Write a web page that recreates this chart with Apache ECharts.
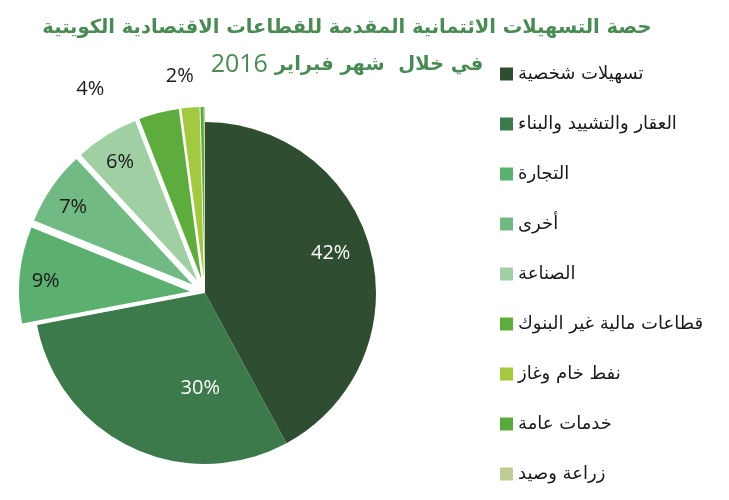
<!DOCTYPE html>
<html lang="ar">
<head>
  <meta charset="utf-8">
  <style>
    html, body { margin: 0; padding: 0; width: 100%; height: 100%; background: #fff; overflow: hidden; }
  </style>
  <script src="https://cdn.jsdelivr.net/npm/echarts@6/dist/echarts.min.js"></script>
</head>
<body>
  <div id="container" style="width: 729px; height: 500px;"></div>
  <script>
    // sectors, in legend order
    var sectors = ['تسهيلات شخصية', 'العقار والتشييد والبناء', 'التجارة', 'أخرى', 'الصناعة',
      'قطاعات مالية غير البنوك', 'نفط خام وغاز', 'خدمات عامة', 'زراعة وصيد'];
    // share of credit, percent
    var shares = [42.1, 29.9, 9.1, 7.0, 6.0, 3.8, 1.7, 0.3, 0.1];
    var colors = ['#2f4d31', '#3d7a4b', '#5bb070', '#72ba83', '#a0cfa3',
      '#5eac3e', '#a4c83f', '#5aa93d', '#c0cc95'];

    var CX = 205, CY = 293, R = 171;
    var pulled = [false, false, true, true, true, true, true, true, true];
    var outsideLabel = [false, false, false, false, false, true, true, false, false];
    // small hand nudges so labels sit where the original put them
    var labelNudge = { 0: [-3, -7], 1: [37, 7], 2: [0, 4], 3: [0, 5], 4: [0, 5], 5: [-44, -2], 6: [10, -9] };
    var arFont = '"DejaVu Sans", sans-serif';

    var chart = echarts.init(document.getElementById('container'), null, { renderer: 'canvas' });

    var items = sectors.map(function (name, i) {
      var it = {
        name: name,
        value: shares[i],
        selected: pulled[i],
        itemStyle: { color: colors[i] },
        label: { color: i < 2 ? '#ffffff' : '#1a1a1a' }
      };
      if (outsideLabel[i]) {
        it.label.position = 'outside';
        it.labelLine = { show: false, length: 22, length2: 0 };
      }
      return it;
    });

    var option = {
      animation: false,
      title: {
        text: 'حصة التسهيلات الائتمانية المقدمة للقطاعات الاقتصادية الكويتية\n{n|2016} في خلال  شهر فبراير',
        left: 342,
        top: 4,
        textAlign: 'center',
        textStyle: {
          fontFamily: arFont,
          fontWeight: 'bold',
          fontSize: 19.5,
          lineHeight: 37,
          color: '#4a8a55',
          rich: {
            n: { fontFamily: '"Open Sans", sans-serif', fontWeight: 'normal', fontSize: 25, color: '#4a8a55' }
          }
        }
      },
      legend: {
        orient: 'vertical',
        left: 495,
        top: 60,
        icon: 'rect',
        itemWidth: 13,
        itemHeight: 13,
        itemGap: 32,
        selectedMode: false,
        data: sectors,
        textStyle: { fontFamily: arFont, fontSize: 18, color: '#1a1a1a', lineHeight: 16 }
      },
      series: [{
        type: 'pie',
        center: [CX, CY],
        radius: R,
        startAngle: 90,
        clockwise: true,
        selectedMode: 'multiple',
        selectedOffset: 15,
        avoidLabelOverlap: false,
        emphasis: { disabled: true },
        itemStyle: { borderWidth: 0 },
        label: {
          show: true,
          position: 'inside',
          fontFamily: '"Open Sans", sans-serif',
          fontSize: 20,
          formatter: function (p) {
            return p.value < 1 ? '' : Math.round(p.value) + '%';
          }
        },
        labelLayout: function (p) {
          var n = labelNudge[p.dataIndex] || [0, 0];
          if (outsideLabel[p.dataIndex]) return { dx: n[0], dy: n[1] };
          var lr = p.labelRect;
          var mx = lr.x + lr.width / 2 - CX;
          var my = lr.y + lr.height / 2 - CY;
          var k = p.dataIndex === 1 ? 0.1 : (p.dataIndex === 0 ? 0.5 : 0.64);
          return { dx: mx * k + n[0], dy: my * k + n[1] };
        },
        data: items
      }]
    };

    chart.setOption(option);
  </script>
</body>
</html>
